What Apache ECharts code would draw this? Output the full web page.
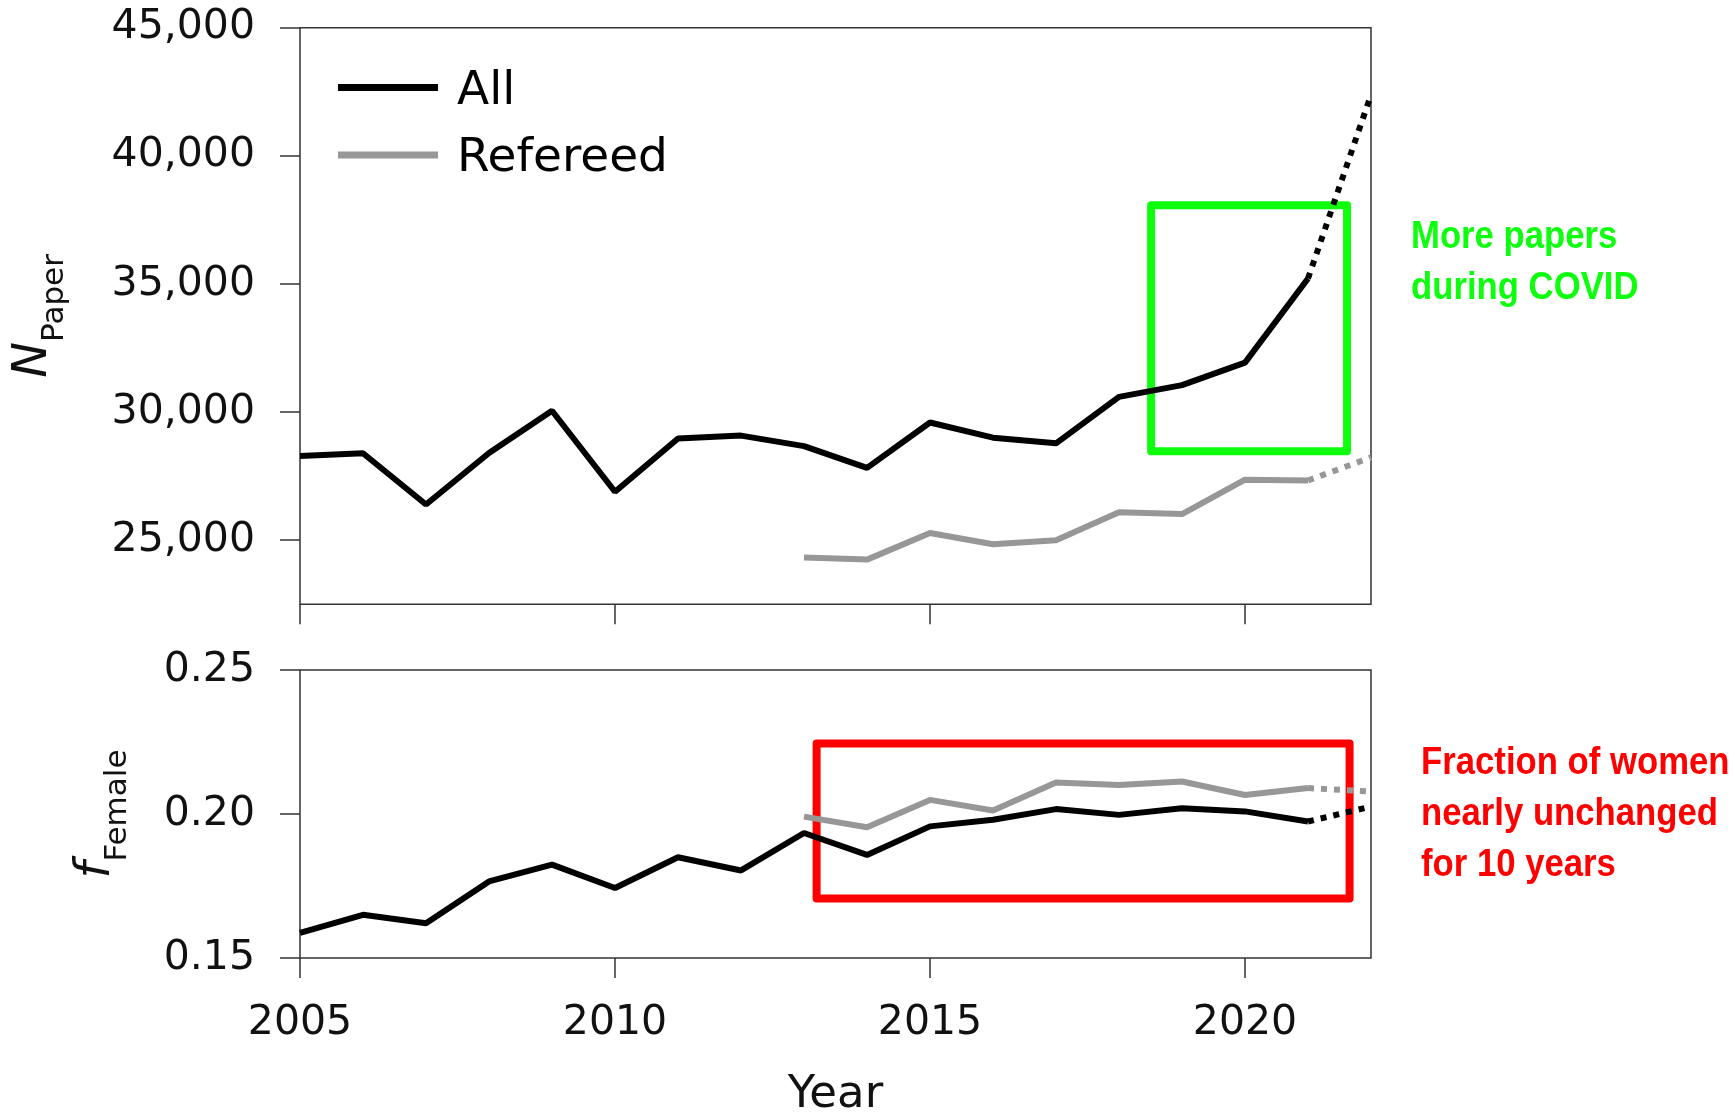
<!DOCTYPE html>
<html>
<head>
<meta charset="utf-8">
<script src="https://cdn.jsdelivr.net/npm/echarts@6/dist/echarts.min.js"></script>
<style>
html,body{margin:0;padding:0;background:#fff;}
#main{width:1735px;height:1113px;}
</style>
</head>
<body>
<div id="main"></div>
<script>
// ---- data ----
const years = [2005,2006,2007,2008,2009,2010,2011,2012,2013,2014,2015,2016,2017,2018,2019,2020,2021];
const allPapers = [28280,28390,26390,28400,30050,26890,28970,29080,28670,27820,29590,29000,28780,30590,31050,31930,35210];
const refYears = [2013,2014,2015,2016,2017,2018,2019,2020,2021];
const refPapers = [24320,24240,25280,24840,25000,26090,26020,27360,27330];
const projYears = [2021,2022];
const allPapersProj = [35210,42380];
const refPapersProj = [27330,28230];
const allFemale = [0.1587,0.1650,0.1621,0.1766,0.1824,0.1743,0.1850,0.1804,0.1934,0.1858,0.1957,0.1980,0.2017,0.1997,0.2020,0.2009,0.1974];
const refFemale = [0.1991,0.1954,0.2049,0.2012,0.2109,0.2101,0.2113,0.2066,0.2090];
const allFemaleProj = [0.1974,0.2026];
const refFemaleProj = [0.2090,0.2078];
const xTicks = [2005,2010,2015,2020];
const paperTicks = [25000,30000,35000,40000,45000];
const femaleTicks = [0.15,0.20,0.25];
const covidBox = [[2018.51,38070],[2021.62,28470]];
const womenBox = [[2013.20,0.2245],[2021.66,0.1707]];
const covidText = ['More papers','during COVID'];
const womenText = ['Fraction of women','nearly unchanged','for 10 years'];

const zip = (xs, ys) => xs.map((x,i)=>[x, ys[i]]);

const FONT = 'DejaVu Sans';
const BLACK = '#000000';
const GREY = '#979797';
const AX = '#333333';
const LW = 6;
const GREEN = '#0dff0d';
const RED = '#ff0000';
const ANNOT_FONT = 'bold 39px "Liberation Sans", Arial, sans-serif';

function xAxisCfg(gridIndex, showLabels){
  return {
    type:'value', gridIndex, min:2005, max:2022,
    axisLine:{show:false},
    splitLine:{show:false},
    axisTick:{show:true, customValues:xTicks, length:20, inside:false, lineStyle:{color:AX,width:1.5}},
    axisLabel:{show:showLabels, customValues:xTicks, margin:45, fontFamily:FONT, fontSize:41, color:'#111',
      formatter:v=>String(v)},
    name: showLabels ? 'Year' : '',
    nameLocation:'middle', nameGap:115,
    nameTextStyle:{fontFamily:FONT, fontSize:45, color:'#111'}
  };
}

const option = {
  animation:false,
  backgroundColor:'#fff',
  grid:[
    {left:300, top:27.7, width:1071, height:576.5, show:true, borderColor:AX, borderWidth:1.5, backgroundColor:'transparent', outerBoundsMode:'none', containLabel:false},
    {left:300, top:670, width:1071, height:288, show:true, borderColor:AX, borderWidth:1.5, backgroundColor:'transparent', outerBoundsMode:'none', containLabel:false}
  ],
  legend:{
    show:true, orient:'vertical', left:338, top:60, padding:0, itemGap:12.5,
    itemWidth:100, itemHeight:7, icon:'rect',
    data:['All','Refereed'],
    formatter:'{a|{name}}',
    textStyle:{fontFamily:FONT, fontSize:47, color:'#000',
      rich:{a:{fontFamily:FONT, fontSize:47, color:'#000', lineHeight:47, padding:[8,0,0,14]}}}
  },
  xAxis:[xAxisCfg(0,false), xAxisCfg(1,true)],
  yAxis:[
    {type:'value', gridIndex:0, min:22500, max:45000,
     axisLine:{show:false}, splitLine:{show:false},
     axisTick:{show:true, customValues:paperTicks, length:20, lineStyle:{color:AX,width:1.5}},
     axisLabel:{customValues:paperTicks, margin:45, fontFamily:FONT, fontSize:41, color:'#111',
       formatter:v=>Number(v).toLocaleString('en-US')},
     name:'{n|N}{s|Paper}', nameLocation:'middle', nameGap:230, nameRotate:90,
     nameTextStyle:{rich:{
       n:{fontFamily:FONT, fontStyle:'italic', fontSize:48, lineHeight:48, padding:[0,0,12,0], verticalAlign:'bottom', color:'#111'},
       s:{fontFamily:FONT, fontSize:31, lineHeight:31, verticalAlign:'bottom', color:'#111'}
     }}
    },
    {type:'value', gridIndex:1, min:0.15, max:0.25,
     axisLine:{show:false}, splitLine:{show:false},
     axisTick:{show:true, customValues:femaleTicks, length:20, lineStyle:{color:AX,width:1.5}},
     axisLabel:{customValues:femaleTicks, margin:45, fontFamily:FONT, fontSize:41, color:'#111',
       formatter:v=>Number(v).toFixed(2)},
     name:'{n|f}{s|Female}', nameLocation:'middle', nameGap:167, nameRotate:90,
     nameTextStyle:{rich:{
       n:{fontFamily:FONT, fontStyle:'italic', fontSize:48, lineHeight:48, padding:[0,0,12,0], verticalAlign:'bottom', color:'#111'},
       s:{fontFamily:FONT, fontSize:31, lineHeight:31, verticalAlign:'bottom', color:'#111'}
     }}
    }
  ],
  series:[
    {name:'All', type:'line', xAxisIndex:0, yAxisIndex:0, data:zip(years,allPapers), symbol:'none', color:BLACK,
     lineStyle:{color:BLACK,width:LW}, z:3},
    {name:'allProj', type:'line', xAxisIndex:0, yAxisIndex:0, data:zip(projYears,allPapersProj), symbol:'none', color:BLACK,
     lineStyle:{color:BLACK,width:LW,type:[6,7]}, z:3},
    {name:'Refereed', type:'line', xAxisIndex:0, yAxisIndex:0, data:zip(refYears,refPapers), symbol:'none', color:GREY,
     lineStyle:{color:GREY,width:LW}, z:2},
    {name:'refProj', type:'line', xAxisIndex:0, yAxisIndex:0, data:zip(projYears,refPapersProj), symbol:'none', color:GREY,
     lineStyle:{color:GREY,width:LW,type:[6,7]}, z:2},
    {name:'All', type:'line', xAxisIndex:1, yAxisIndex:1, data:zip(years,allFemale), symbol:'none', color:BLACK,
     lineStyle:{color:BLACK,width:LW}, z:3},
    {name:'allProjF', type:'line', xAxisIndex:1, yAxisIndex:1, data:zip(projYears,allFemaleProj), symbol:'none', color:BLACK,
     lineStyle:{color:BLACK,width:LW,type:[6,7]}, z:3},
    {name:'Refereed', type:'line', xAxisIndex:1, yAxisIndex:1, data:zip(refYears,refFemale), symbol:'none', color:GREY,
     lineStyle:{color:GREY,width:LW}, z:2},
    {name:'refProjF', type:'line', xAxisIndex:1, yAxisIndex:1, data:zip(projYears,refFemaleProj), symbol:'none', color:GREY,
     lineStyle:{color:GREY,width:LW,type:[6,7]}, z:2},
    {name:'boxTop', type:'line', xAxisIndex:0, yAxisIndex:0, data:[], z:10, silent:true,
     markArea:{silent:true, label:{show:false},
       itemStyle:{color:'rgba(0,0,0,0)', borderColor:GREEN, borderWidth:8, borderJoin:'round'},
       data:[[{coord:covidBox[0]},{coord:covidBox[1]}]]}},
    {name:'boxBottom', type:'line', xAxisIndex:1, yAxisIndex:1, data:[], z:10, silent:true,
     markArea:{silent:true, label:{show:false},
       itemStyle:{color:'rgba(0,0,0,0)', borderColor:RED, borderWidth:8, borderJoin:'round'},
       data:[[{coord:womenBox[0]},{coord:womenBox[1]}]]}}
  ],
  graphic:[
    {type:'text', x:1411, y:212, scaleX:0.89, scaleY:1, z:20,
     style:{text:covidText.join('\n'), x:0, y:0, align:'left', verticalAlign:'top', fill:GREEN, font:ANNOT_FONT, lineHeight:51}},
    {type:'text', x:1421, y:738, scaleX:0.89, scaleY:1, z:20,
     style:{text:womenText.join('\n'), x:0, y:0, align:'left', verticalAlign:'top', fill:RED, font:ANNOT_FONT, lineHeight:51}}
  ]
};

const chart = echarts.init(document.getElementById('main'), null, {renderer:'canvas', width:1735, height:1113});
chart.setOption(option);
</script>
</body>
</html>
